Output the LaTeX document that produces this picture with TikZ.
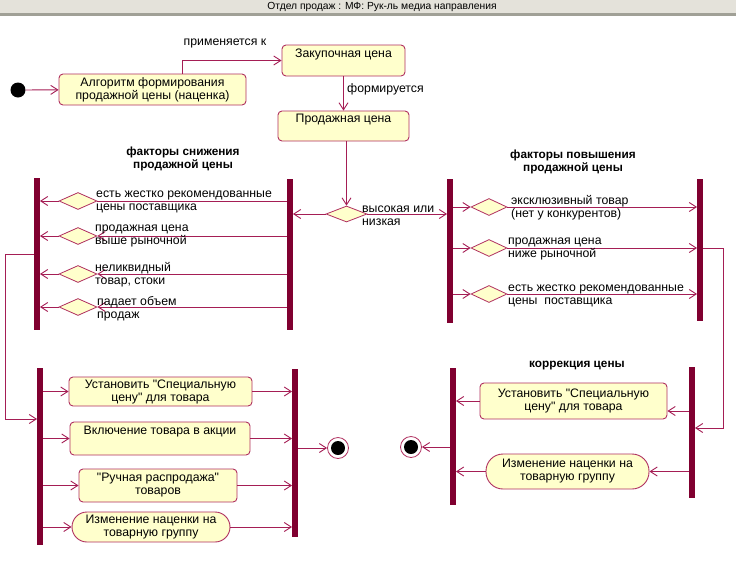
\documentclass[tikz,border=0pt]{standalone}
\usepackage{fontspec}
\setmainfont{Liberation Sans}[Ligatures=TeXOff]
\usetikzlibrary{arrows.meta,shapes.geometric}
\definecolor{edge}{RGB}{176,48,96}
\definecolor{barc}{RGB}{128,0,48}
\definecolor{fillc}{RGB}{255,255,204}
\definecolor{linec}{RGB}{165,30,85}
\definecolor{hdrbg}{RGB}{228,226,218}
\definecolor{hdrln}{RGB}{160,160,150}
\begin{document}
\begin{tikzpicture}[x=1pt,y=-1pt,
 font=\fontsize{12.3}{13}\selectfont,
 box/.style={draw=edge, fill=fillc, rounded corners=4pt, line width=0.9pt, align=center, inner sep=0pt},
 stad/.style={draw=edge, fill=fillc, rounded corners=15pt, line width=0.9pt, align=center, inner sep=0pt},
 dia/.style={diamond, draw=edge, fill=fillc, line width=0.8pt, inner sep=0pt, minimum width=38pt, minimum height=17pt},
 bar/.style={fill=barc, draw=none, minimum width=5.5pt, inner sep=0pt},
 arr/.style={draw=linec, line width=0.9pt, -{Straight Barb[length=7pt,width=9pt]}},
 ln/.style={draw=linec, line width=0.9pt},
 lbl/.style={anchor=west, align=left, inner sep=0pt},
 ttl/.style={font=\fontsize{11.8}{13}\selectfont\bfseries, align=center},
 endo/.style={circle, draw=edge, fill=white, minimum size=21pt, line width=0.8pt, inner sep=0pt},
 endi/.style={circle, fill=black, minimum size=14pt, inner sep=0pt},
]
\useasboundingbox (0,0) rectangle (736,560);
\fill[white] (0,0) rectangle (736,560);
\fill[hdrbg] (0,0) rectangle (736,13);
\fill[hdrln] (0,13) rectangle (736,16);
\node[font=\fontsize{10.3}{11}\selectfont] (hdr) at (382,7) {Отдел продаж : МФ: Рук-ль медиа направления};

% top chain
\node[endi, minimum size=15pt] (start) at (18,90) {};
\node[box, minimum width=187pt, minimum height=31pt] (alg) at (152.5,89.5) {Алгоритм формирования\\продажной цены (наценка)};
\node[box, minimum width=123pt, minimum height=31pt, text height=12pt, text depth=19pt] (zak) at (343.5,60.5) {Закупочная цена};
\node[box, minimum width=131pt, minimum height=30pt, text height=11pt, text depth=19pt] (prod) at (343.5,126) {Продажная цена};
\node[dia, minimum width=41pt, minimum height=16pt] (d0) at (346.5,214) {};

\draw[arr] (start) -- (alg);
\draw[arr] ([xshift=29.5pt]alg.north) |- (zak.west);
\node (lpr) at (225,43) {применяется к};
\draw[arr] (zak) -- (prod);
\node[lbl] (lfo) at (347,89) {формируется};
\draw[arr] (prod.south -| d0.north) -- (d0.north);

% bars
\node[bar, minimum height=152pt] (lb1) at (37,254) {};
\node[bar, minimum height=151pt] (lb2) at (290,254.5) {};
\node[bar, minimum height=144pt] (rb1) at (450,251) {};
\node[bar, minimum height=142pt] (rb2) at (700,250) {};
\node[bar, minimum height=177pt] (bA) at (40,456.5) {};
\node[bar, minimum height=168pt] (bB) at (295,453) {};
\node[bar, minimum height=137pt] (bC) at (453,436.5) {};
\node[bar, minimum height=131pt] (bD) at (692,432.5) {};

\draw[arr] (d0.west) -- (lb2.east |- d0.west);
\draw[arr] (d0.east) -- (rb1.west |- d0.east);
\node[lbl] (lvy) at (362,215.5) {высокая или\\низкая};

% titles
\node[ttl] (tL) at (183,159) {факторы снижения\\продажной цены};
\node[ttl] (tR) at (573,161.5) {факторы повышения\\продажной цены};
\node[ttl] (tC) at (577,366) {коррекция цены};

% left factors
\node[dia] (ld1) at (78,201) {};
\node[dia] (ld2) at (78,236) {};
\node[dia] (ld3) at (78,274) {};
\node[dia] (ld4) at (78,307) {};
\draw[ln] (lb2.west |- ld1) -- (ld1.east);
\draw[arr] (lb2.west |- ld2) -- (ld2.east);
\draw[arr] (lb2.west |- ld3) -- (ld3.east);
\draw[arr] (lb2.west |- ld4) -- (ld4.east);
\foreach \n in {ld1,ld2,ld3,ld4}{\draw[arr] (\n.west) -- (lb1.east |- \n);}
\node[lbl] (lt1) at (96,201.5) {есть жестко рекомендованные\\цены поставщика};
\node[lbl] (lt2) at (95,235.5) {продажная цена\\выше рыночной};
\node[lbl] (lt3) at (95,274.5) {неликвидный\\товар, стоки};
\node[lbl] (lt4) at (97,308.5) {падает объем\\продаж};

% right factors
\node[dia, minimum width=36pt] (rd1) at (489,207) {};
\node[dia, minimum width=36pt] (rd2) at (489,248) {};
\node[dia, minimum width=36pt] (rd3) at (489,294) {};
\foreach \n in {rd1,rd2,rd3}{
  \draw[arr] (rb1.east |- \n) -- (\n.west);
  \draw[arr] (\n.east) -- (rb2.west |- \n);
}
\node[lbl] (rt1) at (511,208) {эксклюзивный товар\\(нет у конкурентов)};
\node[lbl] (rt2) at (508,249) {продажная цена\\ниже рыночной};
\node[lbl] (rt3) at (508,295.5) {есть жестко рекомендованные\\цены~ поставщика};

% long connectors
\coordinate (kL1) at (5,254);
\coordinate (kL2) at (5,419);
\draw[arr] (lb1.west |- kL1) -- (kL1) -- (kL2) -- (bA.west |- kL2);
\coordinate (kR1) at (723,248);
\coordinate (kR2) at (723,428);
\draw[arr] (rb2.east |- kR1) -- (kR1) -- (kR2) -- (bD.east |- kR2);

% bottom left
\node[box, minimum width=183pt, minimum height=29pt] (s1) at (160.5,391.5) {Установить "Специальную\\цену" для товара};
\node[box, minimum width=180pt, minimum height=33pt, text height=12pt, text depth=21pt] (s2) at (160,438.5) {Включение товара в акции};
\node[box, minimum width=158pt, minimum height=33pt] (s3) at (158,485.5) {"Ручная распродажа"\\товаров};
\node[stad, minimum width=158pt, minimum height=30pt] (s4) at (151,527) {Изменение наценки на\\товарную группу};
\foreach \n in {s1,s2,s3,s4}{
  \draw[arr] (bA.east |- \n) -- (\n.west);
  \draw[arr] (\n.east) -- (bB.west |- \n);
}
\node[endo] (e1) at (338,448) {};
\node[endi] (e1c) at (e1) {};
\draw[arr] (bB.east |- e1) -- (e1.west);

% bottom right
\node[box, minimum width=187pt, minimum height=36pt] (c1) at (573.5,401) {Установить "Специальную\\цену" для товара};
\node[stad, minimum width=163pt, minimum height=35pt, rounded corners=17pt] (c2) at (567.5,471.5) {Изменение наценки на\\товарную группу};
\draw[arr] ([yshift=-10pt]c1.east -| bD.west) -- ([yshift=-10pt]c1.east);
\draw[arr] (c1.west) -- (bC.east |- c1.west);
\draw[arr] (bD.west |- c2) -- (c2.east);
\draw[arr] (c2.west) -- (bC.east |- c2);
\node[endo] (e2) at (411,447) {};
\node[endi] (e2c) at (e2) {};
\draw[arr] (bC.west |- e2) -- (e2.east);
\end{tikzpicture}
\end{document}
